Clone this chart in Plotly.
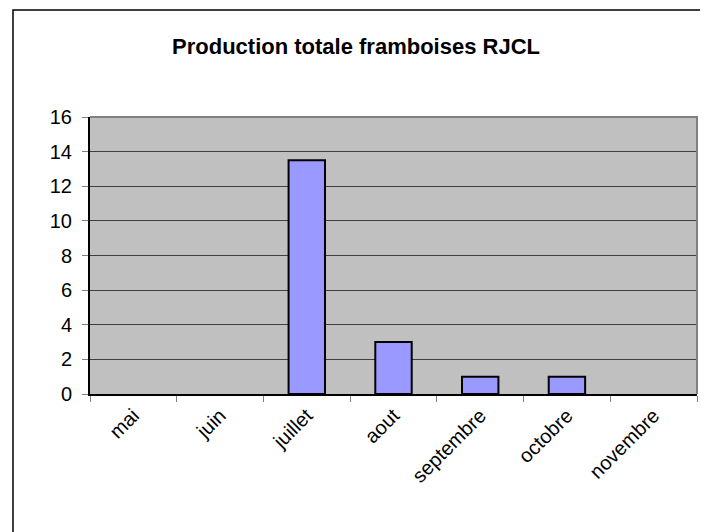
import plotly.graph_objects as go

mois = ["mai", "juin", "juillet", "aout", "septembre", "octobre", "novembre"]
production = [0, 0, 13.5, 3, 1, 1, 0]
y_ticks = [0, 2, 4, 6, 8, 10, 12, 14, 16]

font_family = "Liberation Sans, Arial, sans-serif"

# page has an 8px body margin, so the figure is drawn 8px smaller
W, H = 700, 524
ml, mr, mt, mb = 82, 11, 109, 138
pw, ph = W - ml - mr, H - mt - mb
fx = lambda px: (px - ml) / pw
fy = lambda py: (H - mb - py) / ph

fig = go.Figure()
fig.add_trace(go.Bar(
    x=mois,
    y=production,
    width=0.42,
    marker=dict(color="#9999FF",
                line=dict(color="black", width=[2 if v > 0 else 0 for v in production])),
    showlegend=False,
))

# outer chart frame (cropped on right/bottom in the original)
fig.add_shape(type="rect", xref="paper", yref="paper",
              x0=fx(5), x1=fx(760), y0=fy(2), y1=fy(600),
              line=dict(color="black", width=1.5), fillcolor="rgba(0,0,0,0)",
              layer="below")
# plot area top/right gray border
fig.add_shape(type="path", xref="paper", yref="paper",
              path="M 0 1 L 1 1 L 1 0",
              line=dict(color="#808080", width=2))

fig.update_layout(
    width=W, height=H,
    margin=dict(l=ml, r=mr, t=mt, b=mb),
    paper_bgcolor="white",
    plot_bgcolor="#C0C0C0",
    font=dict(family=font_family, color="black", size=20),
    title=dict(text="<b>Production totale framboises RJCL</b>",
               x=fx(348), xref="paper", xanchor="center",
               y=1 - 38 / H, yanchor="middle",
               font=dict(size=22, family=font_family)),
)
fig.update_xaxes(
    type="category",
    tickangle=-45,
    showline=True, linecolor="black", linewidth=2,
    ticks="outside", ticklen=6, tickcolor="#808080", tickwidth=1,
    tickson="boundaries",
    showgrid=False,
    tickfont=dict(size=20),
)
fig.update_yaxes(
    range=[0, 16],
    tickvals=y_ticks,
    showline=True, linecolor="black", linewidth=2,
    ticks="outside", ticklen=6, tickcolor="#808080", tickwidth=1,
    showgrid=True, gridcolor="#404040", gridwidth=1,
    zeroline=False,
    ticklabelstandoff=6,
    tickfont=dict(size=20),
)

fig.write_html("out.html")
